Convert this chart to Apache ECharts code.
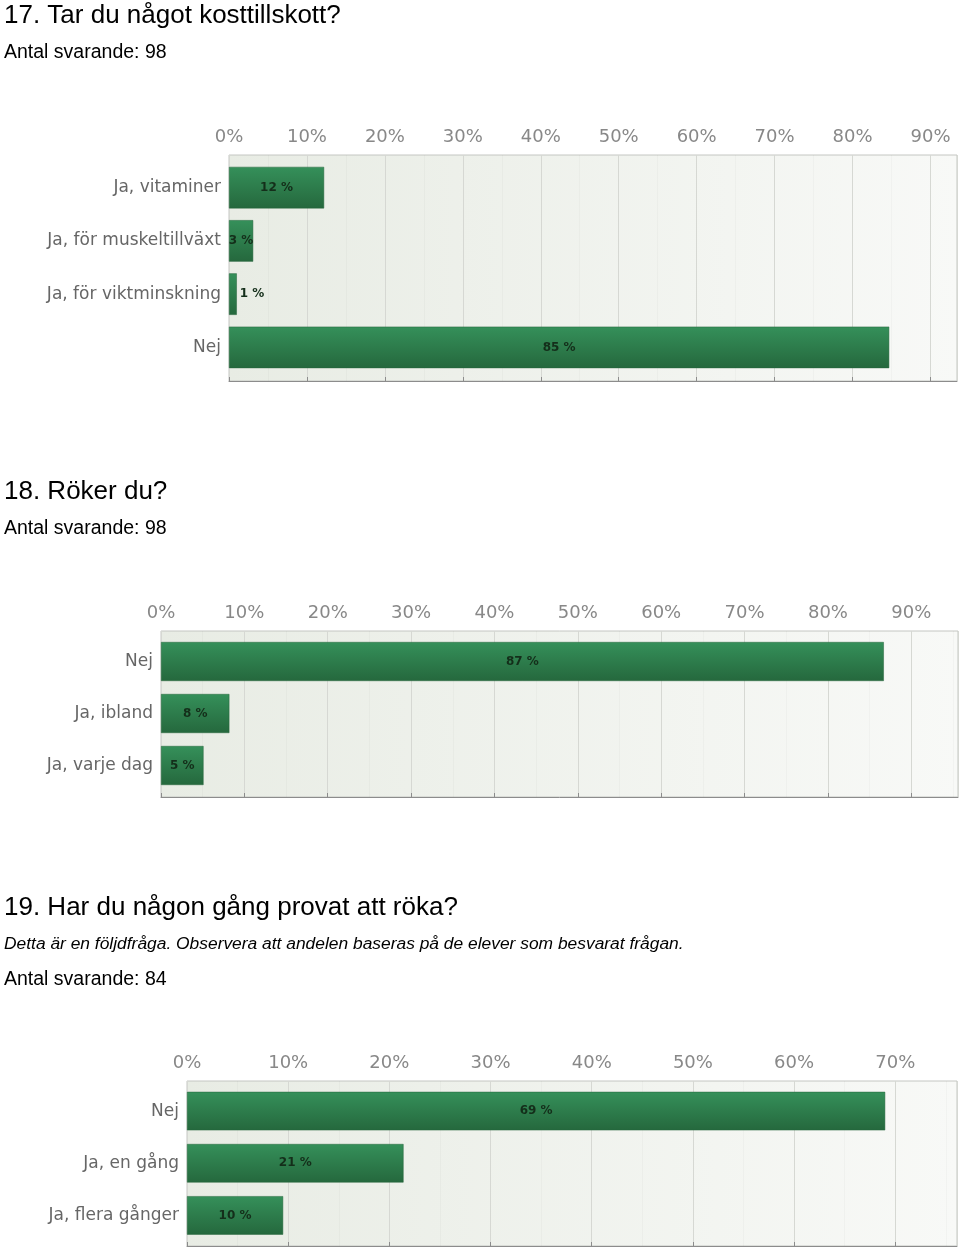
<!DOCTYPE html>
<html>
<head>
<meta charset="utf-8">
<script src="https://cdn.jsdelivr.net/npm/echarts@6/dist/echarts.min.js"></script>
<style>
html,body{margin:0;padding:0;background:#fff;}
#c{width:960px;height:1249px;}
</style>
</head>
<body>
<div id="c"></div>
<script>
// ---- Data ----
var titles = ["17. Tar du något kosttillskott?", "18. Röker du?", "19. Har du någon gång provat att röka?"];
var subtitles = ["Antal svarande: 98", "Antal svarande: 98", "Antal svarande: 84"];
var note3 = "Detta är en följdfråga. Observera att andelen baseras på de elever som besvarat frågan.";

var cats1 = ["Ja, vitaminer", "Ja, för muskeltillväxt", "Ja, för viktminskning", "Nej"];
var vals1 = [12.2, 3.1, 1.0, 84.7];

var cats2 = ["Nej", "Ja, ibland", "Ja, varje dag"];
var vals2 = [86.7, 8.2, 5.1];

var cats3 = ["Nej", "Ja, en gång", "Ja, flera gånger"];
var vals3 = [69.0, 21.4, 9.5];

var axisMax = [93.4, 95.6, 76.1];

// ---- Layout / style ----
// frame grids (background, border, percent axis)
var frames = [
  {left: 229, top: 155, right: 3, height: 226},
  {left: 161, top: 631, right: 2, height: 166},
  {left: 187, top: 1081, right: 3, height: 165}
];
// inner grids holding the bars (inset from the frame)
var inner = [
  {left: 229, top: 161, right: 3, height: 213},
  {left: 161, top: 635.5, right: 2, height: 156},
  {left: 187, top: 1085, right: 3, height: 156.5}
];
var barW = [41.5, 39, 38.5];

var bgGrad = new echarts.graphic.LinearGradient(0, 0, 1, 0, [
  {offset: 0, color: '#e8ece4'}, {offset: 1, color: '#f8f9f7'}
]);
var barGrad = new echarts.graphic.LinearGradient(0, 0, 0, 1, [
  {offset: 0, color: '#35905a'}, {offset: 1, color: '#25683d'}
]);

function frameX(i) {
  return {
    gridIndex: i, type: 'value', position: 'top', min: 0, max: axisMax[i], interval: 10,
    axisLine: {show: true, lineStyle: {color: '#8c8c8c', width: 1}},
    axisTick: {show: true, length: 4, lineStyle: {color: '#8c8c8c'}},
    axisLabel: {
      showMaxLabel: false, color: '#888', fontSize: 18, fontFamily: 'DejaVu Sans', margin: 9,
      formatter: function (v) { return (Math.abs(v % 10) < 1e-6) ? v + '%' : ''; }
    },
    splitLine: {show: true, lineStyle: {color: '#d6d8d3', width: 1}},
    minorTick: {show: false, splitNumber: 2},
    minorSplitLine: {show: true, lineStyle: {color: 'rgba(0,0,0,0.025)'}}
  };
}
function frameY(i) {
  return {gridIndex: i, type: 'value', show: false};
}
function innerX(i) {
  return {gridIndex: i + 3, type: 'value', min: 0, max: axisMax[i], show: false, splitLine: {show: false}};
}
function innerY(i, cats) {
  return {
    gridIndex: i + 3, type: 'category', data: cats, inverse: true,
    axisLine: {show: false}, axisTick: {show: false}, splitLine: {show: false},
    axisLabel: {color: '#666', fontSize: 17, fontFamily: 'DejaVu Sans', margin: 8}
  };
}
function seriesFor(i, vals) {
  return {
    type: 'bar', xAxisIndex: i + 3, yAxisIndex: i + 3, barWidth: barW[i],
    itemStyle: {color: barGrad, borderColor: '#24653a', borderWidth: 0.5},
    data: vals.map(function (v) {
      return {
        value: v,
        label: {
          show: true, position: v < 2 ? 'right' : 'inside', distance: 3,
          formatter: Math.round(v) + ' %',
          color: '#142e1a', fontSize: 12, fontWeight: 'bold', fontFamily: 'DejaVu Sans'
        }
      };
    })
  };
}

var txt = function (x, y, s, size, italic) {
  return {type: 'text', left: x, top: y, style: {text: s, fill: '#000', fontSize: size,
    fontFamily: 'Liberation Sans', fontStyle: italic ? 'italic' : 'normal'}};
};

var chart = echarts.init(document.getElementById('c'));
chart.setOption({
  animation: false,
  backgroundColor: '#fff',
  graphic: [
    txt(4, 3, titles[0], 26), txt(4, 43, subtitles[0], 19.5),
    txt(4, 479, titles[1], 26), txt(4, 519, subtitles[1], 19.5),
    txt(4, 895, titles[2], 26), txt(4, 936, note3, 17.4, true), txt(4, 970, subtitles[2], 19.5)
  ],
  grid: frames.map(function (g) {
    return Object.assign({show: true, backgroundColor: bgGrad, borderColor: '#c4c6c2', borderWidth: 1, containLabel: false}, g);
  }).concat(inner.map(function (g) {
    return Object.assign({show: false, containLabel: false}, g);
  })),
  xAxis: [frameX(0), frameX(1), frameX(2), innerX(0), innerX(1), innerX(2)],
  yAxis: [frameY(0), frameY(1), frameY(2), innerY(0, cats1), innerY(1, cats2), innerY(2, cats3)],
  series: [seriesFor(0, vals1), seriesFor(1, vals2), seriesFor(2, vals3)]
});
</script>
</body>
</html>
